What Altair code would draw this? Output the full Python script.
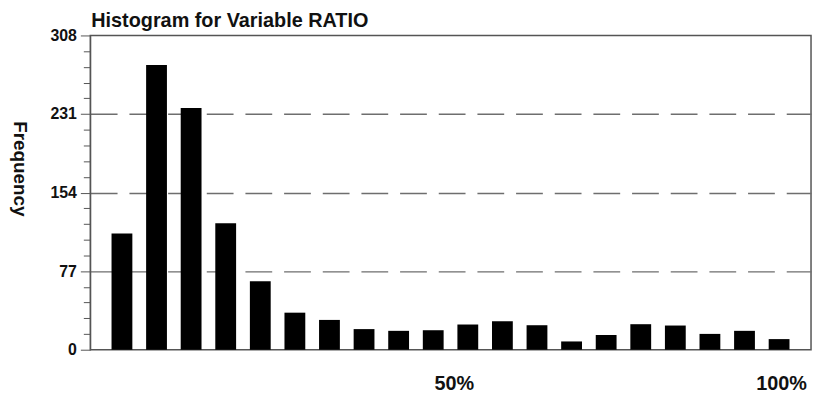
import altair as alt
import pandas as pd

bins = list(range(1, 21))
freq = [114, 279, 237, 124, 67, 36.3, 29.2, 20.2, 18.5, 19.1, 24.7, 27.9, 24, 8.1, 14.4, 25, 23.7, 15.5, 18.5, 10.4]
y_ticks = [round(i * 77 / 5, 1) for i in range(21)]
label_text = ["50%", "100%"]
label_pos = [10.61, 20.07]

df = pd.DataFrame({"bin": bins, "freq": freq})
lab = pd.DataFrame({"pos": label_pos, "text": label_text})

FONT = "Liberation Sans"
xscale = alt.Scale(domain=[0.228, 20.78], nice=False, zero=False)
yscale = alt.Scale(domain=[0, 308], nice=False)
major = "datum.value % 77 === 0"
inner = "datum.value % 77 === 0 && datum.value > 0 && datum.value < 308"

bars = alt.Chart(df).mark_bar(size=21, color="black").encode(
    x=alt.X("bin:Q", scale=xscale,
            axis=alt.Axis(values=bins, labels=False, ticks=True, tickSize=8,
                          grid=False, domainColor="#555", tickColor="#555",
                          title=None)),
    y=alt.Y("freq:Q", scale=yscale,
            axis=alt.Axis(values=y_ticks, title="Frequency",
                          labelExpr=f"{major} ? datum.label : ''",
                          labelOverlap=False,
                          labelFont=FONT, labelFontSize=16, labelFontWeight="bold",
                          labelColor="#111", labelPadding=4,
                          tickSize={"condition": {"test": major, "value": 10}, "value": 7},
                          tickColor="#555", domainColor="#555",
                          grid=True, gridDash=[27, 12], gridColor="#6e6e6e", gridWidth=1.4,
                          gridOpacity={"condition": {"test": inner, "value": 1}, "value": 0},
                          titleFont=FONT, titleFontSize=19, titleFontWeight="bold",
                          titleColor="#111", titleAngle=90, titleAlign="center",
                          titleBaseline="middle", titleX=-71, titleY=134)),
)

texts = alt.Chart(lab).mark_text(fontSize=20, fontWeight="bold", font=FONT,
                                 color="#111", baseline="middle").encode(
    x=alt.X("pos:Q", scale=xscale, axis=None),
    y=alt.value(351.5),
    text="text:N",
)

chart = alt.layer(bars, texts).properties(
    width=727, height=317,
    title=alt.TitleParams("Histogram for Variable RATIO", anchor="start", frame="group",
                          font=FONT, fontSize=20, fontWeight="bold", color="#111",
                          dx=1, offset=-3),
    autosize=alt.AutoSizeParams(type="none"),
    padding={"left": 83, "top": 26, "right": 3, "bottom": 44},
).configure_view(stroke="#555", strokeWidth=1.5)

chart.save("out.html", embed_options={"renderer": "svg", "actions": False})
